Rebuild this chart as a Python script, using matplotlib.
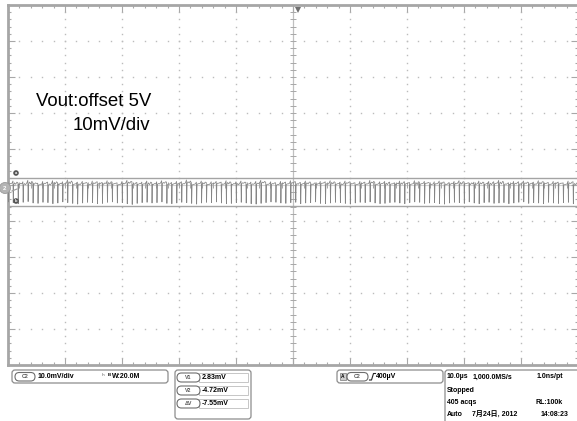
import matplotlib
matplotlib.use("Agg")
import matplotlib.pyplot as plt
from matplotlib.patches import FancyBboxPatch, Circle, Rectangle
import numpy as np

plt.rcParams['font.family'] = ['Liberation Sans', 'Noto Sans CJK SC', 'DejaVu Sans']

# ---------------- data ----------------
W, H = 577, 421
mv_per_div = 10.0
us_per_div = 10.0
n_hdiv = 10
n_vdiv = 10
ground_pos_div = -0.1          # channel 2 ground marker position (divisions)
cursor_v1_mV = 2.83
cursor_v2_mV = -4.72
cursor_dv_mV = -7.55
trigger_pos_div = 5.09         # trigger position marker on top edge

cycle_top_mV = [
    1.8, 2.1, 1.6, 1.9, 2.3, 1.7, 1.5, 2.0, 1.8, 2.2,
    1.6, 1.9, 2.4, 1.7, 1.8, 2.0, 1.5, 2.1, 1.9, 1.7,
    2.2, 1.8, 1.6, 2.0, 2.3, 1.9, 1.7, 1.8, 2.1, 1.6,
    1.9, 2.2, 1.8, 1.7, 2.0, 1.9, 2.4, 1.6, 1.8, 2.1,
    1.7, 1.9, 2.0, 1.8, 2.2, 1.6, 1.9, 2.1, 1.7, 1.8,
    2.0, 2.3, 1.7, 1.9, 1.6, 2.0, 1.8, 2.2, 1.9, 1.7,
    2.1, 1.8, 1.6, 2.0, 1.9, 2.2, 1.7, 1.8, 2.1, 1.9,
    1.6, 2.0, 1.8, 2.3, 1.7, 1.9, 2.0, 1.8, 1.6, 2.1,
    1.9, 1.7, 2.2, 1.8, 2.0, 1.6, 1.9, 2.1, 1.8, 1.7,
    2.0, 2.2, 1.9, 1.6, 1.8, 2.1, 1.7, 2.0, 1.9, 2.3,
    1.8, 1.6, 2.0, 1.9, 2.1, 1.7, 1.8, 2.2, 1.9, 1.7,
    2.0, 1.8, 1.6, 2.1, 1.9,
]
cycle_bottom_mV = [
    -3.7, -3.9, -4.2, -3.8, -3.6, -4.0, -4.1, -3.8, -3.9, -4.2,
    -4.0, -3.7, -3.9, -4.1, -4.3, -4.0, -3.8, -3.9, -4.2, -4.1,
    -3.8, -3.7, -4.0, -3.9, -4.2, -4.4, -4.1, -3.9, -3.8, -4.0,
    -3.9, -3.7, -4.1, -4.2, -4.0, -3.8, -3.9, -4.1, -4.3, -4.0,
    -3.8, -3.9, -3.7, -4.0, -4.2, -4.1, -3.9, -3.8, -4.0, -4.2,
    -4.3, -4.1, -3.9, -3.7, -3.8, -4.0, -4.1, -3.9, -3.8, -4.2,
    -4.0, -3.9, -3.7, -4.1, -4.2, -4.0, -3.8, -3.9, -4.1, -4.3,
    -4.0, -3.8, -3.9, -3.7, -4.0, -4.2, -4.1, -3.9, -3.8, -4.0,
    -4.2, -3.9, -3.7, -3.8, -4.1, -4.0, -3.9, -4.2, -4.3, -4.0,
    -3.8, -3.9, -4.1, -3.7, -4.0, -4.2, -3.9, -3.8, -4.1, -4.0,
    -3.9, -4.2, -4.0, -3.8, -3.7, -4.1, -3.9, -4.0, -4.2, -3.8,
    -4.0, -4.1, -3.9, -3.8, -4.2,
]
cycle_mid_mV = [
    1.2, 1.0, 1.3, 0.9, 1.1, 1.4, 1.0, 1.2, 0.8, 1.1,
    1.3, 1.0, 1.2, 1.1, 0.9, 1.3, 1.0, 1.2, 1.1, 1.4,
    1.0, 1.2, 0.9, 1.1, 1.3, 1.0, 1.2, 1.1, 0.9, 1.2,
    1.1, 1.3, 1.0, 1.2, 0.9, 1.1, 1.4, 1.0, 1.2, 1.1,
    0.9, 1.2, 1.3, 1.0, 1.1, 1.2, 0.9, 1.3, 1.1, 1.0,
    1.2, 1.4, 1.0, 1.1, 0.9, 1.2, 1.1, 1.3, 1.0, 1.2,
    1.1, 0.9, 1.2, 1.3, 1.0, 1.1, 1.2, 0.9, 1.3, 1.1,
    1.0, 1.2, 1.1, 1.4, 1.0, 1.2, 0.9, 1.1, 1.3, 1.0,
    1.2, 1.1, 0.9, 1.2, 1.3, 1.0, 1.1, 1.2, 0.9, 1.3,
    1.1, 1.0, 1.2, 1.4, 1.0, 1.1, 1.2, 0.9, 1.3, 1.1,
    1.0, 1.2, 1.1, 0.9, 1.2, 1.3, 1.0, 1.1, 1.2, 1.0,
    1.1, 1.3, 1.0, 1.2, 0.9,
]

annotation_lines = ["Vout:offset 5V", "10mV/div"]
ch_label = "C2"
ch_scale_text = "10.0mV/div"
bw_text = "W:20.0M"
cursor_names = ["V1", "V2", "ΔV"]
cursor_values = [cursor_v1_mV, cursor_v2_mV, cursor_dv_mV]
trigger_text = "400µV"
acq_rows = [
    ("10.0µs", "1,000.0MS/s", "1.0ns/pt"),
    ("Stopped", "", ""),
    ("405 acqs", "", "RL:100k"),
    ("Auto", "7月24日, 2012", "14:08:23"),
]

# ---------------- figure ----------------
fig = plt.figure(figsize=(W / 100, H / 100), dpi=100)
fig.patch.set_facecolor('white')

left_px, top_px, grid_w, grid_h = 8, 5, 570, 360
ax = fig.add_axes([left_px / W, (H - top_px - grid_h) / H, grid_w / W, grid_h / H])

x_max = n_hdiv * us_per_div
y_center = -ground_pos_div * mv_per_div
y_half = n_vdiv / 2 * mv_per_div
ax.set_xlim(0, x_max)
ax.set_ylim(y_center - y_half, y_center + y_half)

grid_c = '#a8a8a8'
for s in ax.spines.values():
    s.set_color('#a6a6a6')
    s.set_linewidth(2.0)

ax.set_xticks(np.arange(0, x_max + 0.01, us_per_div))
ax.set_xticks(np.arange(0, x_max + 0.01, us_per_div / 5), minor=True)
ax.set_yticks(y_center + np.arange(-y_half, y_half + 0.01, mv_per_div))
ax.set_yticks(y_center + np.arange(-y_half, y_half + 0.01, mv_per_div / 5), minor=True)
ax.tick_params(which='both', direction='in', top=True, right=True,
               labelbottom=False, labelleft=False, color=grid_c, width=0.8)
ax.tick_params(which='major', length=5)
ax.tick_params(which='minor', length=2.2)

# dotted graticule
dot_c = '#bcbcbc'
ydots = y_center + np.arange(-y_half, y_half + 0.01, mv_per_div / 5)
xdots = np.arange(0, x_max + 0.01, us_per_div / 5)
for k in range(1, n_hdiv):
    if k == n_hdiv // 2:
        continue
    ax.plot(np.full_like(ydots, k * us_per_div), ydots, ls='none', marker='s',
            ms=1.0, mew=0, color=dot_c, zorder=1)
for k in range(-n_vdiv // 2 + 1, n_vdiv // 2):
    if k == 0:
        continue
    yy = y_center + k * mv_per_div
    ax.plot(xdots, np.full_like(xdots, yy), ls='none', marker='s',
            ms=1.0, mew=0, color=dot_c, zorder=1)

# center cross with ticks
ax.axvline(x_max / 2, color='#c0c0c0', lw=0.9, zorder=1)
ax.axhline(y_center, color='#d2d2d2', lw=0.8, zorder=1)
ax.plot(np.full_like(ydots, x_max / 2), ydots, ls='none', marker='_', ms=4,
        mew=0.7, color=grid_c, zorder=1)
ax.plot(xdots, np.full_like(xdots, y_center), ls='none', marker='|', ms=4,
        mew=0.7, color=grid_c, zorder=1)

# cursors
ax.axhline(cursor_v1_mV, color='#a4a4a4', lw=1.0, zorder=2)
ax.axhline(cursor_v2_mV, color='#a4a4a4', lw=1.0, zorder=2)

# waveform: flat top, sharp negative spike, recovery
n = len(cycle_top_mV)
period = x_max / n
t, v = [], []
for i in range(n):
    t0 = i * period
    t += [t0, t0 + 0.06 * period, t0 + 0.14 * period, t0 + 0.3 * period,
          t0 + 0.55 * period, t0 + 0.8 * period]
    v += [cycle_top_mV[i], cycle_bottom_mV[i], cycle_mid_mV[i],
          cycle_top_mV[i] - 0.5, cycle_mid_mV[i] + 0.2, cycle_top_mV[i] - 0.3]
t.append(x_max)
v.append(cycle_top_mV[0])
ax.plot(t, v, color='#858585', lw=0.55, zorder=3)

# trigger position marker
ax.plot([trigger_pos_div * us_per_div], [y_center + y_half - 1.3], marker='v',
        ms=5, color='#707070', mew=0, clip_on=False, zorder=5)

# annotation text
fig.text(36 / W, 1 - 102 / H, annotation_lines[0], fontsize=13.4, va='center', ha='left')
fig.text(73 / W, 1 - 125 / H, annotation_lines[1], fontsize=13.4, va='center', ha='left')

# ---------------- overlay in pixel coords ----------------
ov = fig.add_axes([0, 0, 1, 1])
ov.set_xlim(0, W)
ov.set_ylim(H, 0)
ov.axis('off')
ov.patch.set_alpha(0)


def rbox(x0, y0, x1, y1, r=3, ec='#8c8c8c', lw=0.9, fc='white', z=2):
    p = FancyBboxPatch((x0, y0), x1 - x0, y1 - y0,
                       boxstyle=f"round,pad=0,rounding_size={r}",
                       ec=ec, fc=fc, lw=lw, zorder=z)
    ov.add_patch(p)


def pill(x0, y0, x1, y1, label, fs=3.8):
    rbox(x0, y0, x1, y1, r=(y1 - y0) / 2, ec='#6e6e6e', lw=0.8, z=3)
    ov.text((x0 + x1) / 2, (y0 + y1) / 2, label, fontsize=fs, ha='center',
            va='center', fontweight='bold', color='#555555', zorder=4)


fs = 5.0
# channel ground marker & cursor tags
ov.add_patch(Circle((5, 188), 5.5, fc='#b4b4b4', ec='#9a9a9a', lw=0.6, zorder=5))
ov.text(5, 188.3, '2', fontsize=4.5, ha='center', va='center', color='white',
        fontweight='bold', zorder=6)
ov.plot([12, 17], [191, 189], color='#9a9a9a', lw=0.8, zorder=5)
for (cy, lab) in [(173, 'a'), (201, 'b')]:
    ov.add_patch(Circle((16, cy), 2.8, fc='#555555', ec='none', zorder=5))
    ov.text(16, cy + 0.2, lab, fontsize=3, ha='center', va='center',
            color='white', fontweight='bold', zorder=6)

# box 1
rbox(12, 370, 168, 383)
pill(15, 372.5, 35, 381, ch_label)
ov.text(38, 376.8, ch_scale_text, fontsize=fs, fontweight='bold', va='center')
ov.text(102, 376.5, 'ʰ', fontsize=5, va='center', color='#666666')
ov.text(108, 374.5, 'B', fontsize=3.2, fontweight='bold', va='center')
ov.text(111.5, 376.8, bw_text, fontsize=fs, fontweight='bold', va='center')

# box 2 cursors
rbox(175, 370, 251, 419)
for i, (nm, val) in enumerate(zip(cursor_names, cursor_values)):
    y0 = 373 + i * 13
    ov.add_patch(Rectangle((199, y0), 49, 9, fc='white', ec='#bdbdbd', lw=0.6, zorder=3))
    pill(177, y0, 200, y0 + 9, nm)
    ov.text(202, y0 + 4.8, f"{val:.2f}mV", fontsize=fs, fontweight='bold', va='center', zorder=4)

# box 3 trigger
rbox(337, 370, 443, 383)
ov.add_patch(Rectangle((339.5, 373), 6, 7, fc='#cfcfcf', ec='#777777', lw=0.5, zorder=3))
ov.text(342.5, 376.6, 'A', fontsize=3.5, ha='center', va='center', fontweight='bold', zorder=4)
pill(347, 372.5, 368, 381, ch_label)
ov.plot([369.5, 371.5, 373.5, 375.5], [380, 380, 373.5, 373.5], color='#222222', lw=0.8, zorder=4)
ov.text(376, 376.8, trigger_text, fontsize=fs, fontweight='bold', va='center')

# box 4 acquisition
rbox(445, 370, 590, 430)
row_y = [377, 390, 402, 414.5]
for (a, b, c), yy in zip(acq_rows, row_y):
    if a:
        ov.text(447, yy, a, fontsize=fs, fontweight='bold', va='center')
    if b:
        ov.text(473 if yy != row_y[3] else 472, yy, b, fontsize=fs, fontweight='bold', va='center')
    if c:
        ov.text(568 if yy == row_y[3] else 563, yy, c, fontsize=fs, fontweight='bold',
                va='center', ha='right')

fig.savefig('out.png', dpi=100, facecolor='white')
